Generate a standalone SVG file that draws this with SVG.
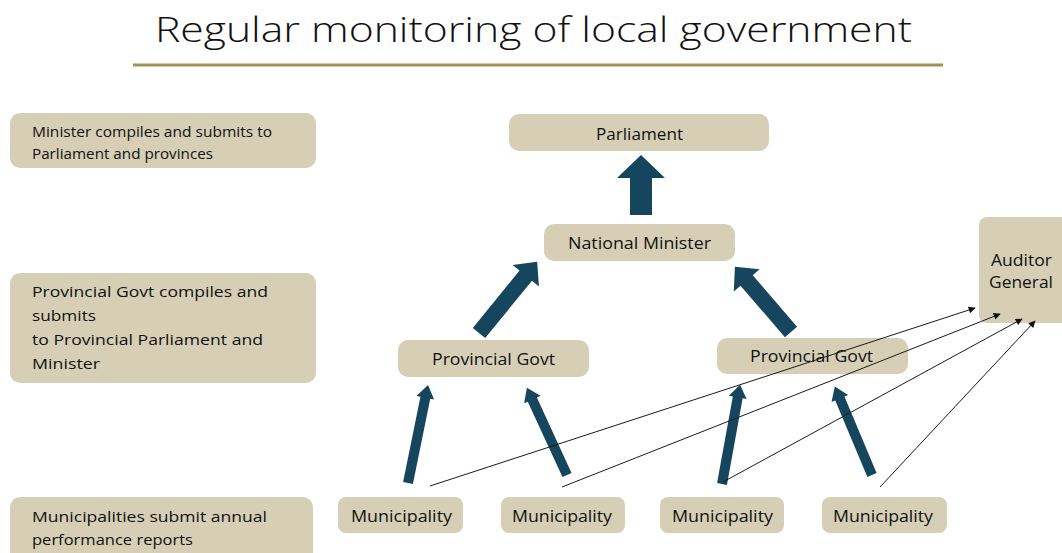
<svg xmlns="http://www.w3.org/2000/svg" width="1062" height="553" viewBox="0 0 1062 553">
  <defs>
    <style>
      .box { fill: #d6cfb6; }
      .lbl { font-family: "Open Sans", "Liberation Sans", sans-serif; font-size: 16px; fill: #111; }
      .side { font-family: "Open Sans", "Liberation Sans", sans-serif; font-size: 15px; fill: #111; }
      .title { font-family: "Open Sans", "Liberation Sans", sans-serif; font-size: 35px; font-weight: 300; fill: #111; }
      .blk { fill: #15465d; }
      .thin { stroke: #1a1a1a; stroke-width: 1; fill: none; marker-end: url(#tip); }
    </style>
    <marker id="tip" viewBox="0 0 10 10" refX="9" refY="5" markerWidth="9" markerHeight="7" markerUnits="userSpaceOnUse" orient="auto">
      <path d="M0,0 L10,5 L0,10 z" fill="#111"/>
    </marker>
  </defs>

  <rect width="1062" height="553" fill="#ffffff"/>

  <!-- heading -->
  <text class="title" x="155" y="42" textLength="757" lengthAdjust="spacingAndGlyphs">Regular monitoring of local government</text>
  <rect x="133" y="63.5" width="810" height="3" fill="#9f9158"/>

  <!-- side notes -->
  <g id="note-minister">
    <rect class="box" x="10" y="113" width="306" height="55" rx="10"/>
    <text class="side" x="32" y="137" textLength="240" lengthAdjust="spacingAndGlyphs">Minister compiles and submits to</text>
    <text class="side" x="32" y="159" textLength="181" lengthAdjust="spacingAndGlyphs">Parliament and provinces</text>
  </g>
  <g id="note-provincial">
    <rect class="box" x="10" y="273" width="306" height="110" rx="10"/>
    <text class="side" x="32" y="297" textLength="236" lengthAdjust="spacingAndGlyphs">Provincial Govt compiles and</text>
    <text class="side" x="32" y="321" textLength="64" lengthAdjust="spacingAndGlyphs">submits</text>
    <text class="side" x="32" y="345" textLength="231" lengthAdjust="spacingAndGlyphs">to Provincial Parliament and</text>
    <text class="side" x="32" y="369" textLength="68" lengthAdjust="spacingAndGlyphs">Minister</text>
  </g>
  <g id="note-municipal">
    <rect class="box" x="10" y="497" width="303" height="70" rx="10"/>
    <text class="side" x="32" y="522" textLength="235" lengthAdjust="spacingAndGlyphs">Municipalities submit annual</text>
    <text class="side" x="32" y="545" textLength="161" lengthAdjust="spacingAndGlyphs">performance reports</text>
  </g>

  <!-- nodes -->
  <g id="parliament">
    <rect class="box" x="509" y="114" width="260" height="37" rx="10"/>
    <text class="lbl" x="596" y="140" textLength="87" lengthAdjust="spacingAndGlyphs">Parliament</text>
  </g>
  <g id="national-minister">
    <rect class="box" x="544" y="224" width="191" height="37" rx="10"/>
    <text class="lbl" x="568" y="249" textLength="143" lengthAdjust="spacingAndGlyphs">National Minister</text>
  </g>
  <g id="provincial-left">
    <rect class="box" x="398" y="340" width="191" height="37" rx="10"/>
    <text class="lbl" x="432" y="365" textLength="123" lengthAdjust="spacingAndGlyphs">Provincial Govt</text>
  </g>
  <g id="provincial-right">
    <rect class="box" x="717" y="338" width="191" height="36" rx="10"/>
    <text class="lbl" x="750" y="362" textLength="123" lengthAdjust="spacingAndGlyphs">Provincial Govt</text>
  </g>
  <g id="auditor-general">
    <rect class="box" x="979" y="217" width="90" height="106" rx="8"/>
    <text class="lbl" x="991" y="266" textLength="61" lengthAdjust="spacingAndGlyphs">Auditor</text>
    <text class="lbl" x="989" y="288" textLength="64" lengthAdjust="spacingAndGlyphs">General</text>
  </g>
  <g id="municipality-1">
    <rect class="box" x="338" y="497" width="125" height="36" rx="8"/>
    <text class="lbl" x="351" y="522" textLength="101" lengthAdjust="spacingAndGlyphs">Municipality</text>
  </g>
  <g id="municipality-2">
    <rect class="box" x="501" y="497" width="124" height="36" rx="8"/>
    <text class="lbl" x="512" y="522" textLength="100" lengthAdjust="spacingAndGlyphs">Municipality</text>
  </g>
  <g id="municipality-3">
    <rect class="box" x="660" y="497" width="124" height="36" rx="8"/>
    <text class="lbl" x="672" y="522" textLength="101" lengthAdjust="spacingAndGlyphs">Municipality</text>
  </g>
  <g id="municipality-4">
    <rect class="box" x="822" y="497" width="125" height="36" rx="8"/>
    <text class="lbl" x="833" y="522" textLength="100" lengthAdjust="spacingAndGlyphs">Municipality</text>
  </g>

  <!-- connectors, drawn over the boxes -->
  <g id="connectors">
    <!-- block arrows: local shape runs along +x from tail (0,0) to tip (L,0) -->
    <polygon class="blk" points="630,215 630,178 617,178 641,155 665,178 652,178 652,215"/>
    <polygon class="blk" transform="translate(479,333) rotate(-50.8)" points="0,-8 74,-8 74,-17 92,0 74,17 74,8 0,8"/>
    <polygon class="blk" transform="translate(791,332) rotate(-130.7)" points="0,-8 68,-8 68,-17 86,0 68,17 68,8 0,8"/>
    <polygon class="blk" transform="translate(408,483) rotate(-78.5)" points="0,-5 87,-5 87,-9 100,0 87,9 87,5 0,5"/>
    <polygon class="blk" transform="translate(567,475) rotate(-114.7)" points="0,-5 83,-5 83,-9 96,0 83,9 83,5 0,5"/>
    <polygon class="blk" transform="translate(722,484) rotate(-79.7)" points="0,-5 88,-5 88,-9 101,0 88,9 88,5 0,5"/>
    <polygon class="blk" transform="translate(872,475) rotate(-112.8)" points="0,-5 83,-5 83,-9 96,0 83,9 83,5 0,5"/>
    <!-- report lines to the Auditor General -->
    <line class="thin" x1="430" y1="486" x2="975" y2="308"/>
    <line class="thin" x1="562" y1="487" x2="1000" y2="314"/>
    <line class="thin" x1="723" y1="482" x2="1022" y2="319"/>
    <line class="thin" x1="880" y1="487" x2="1035" y2="321"/>
  </g>
</svg>
